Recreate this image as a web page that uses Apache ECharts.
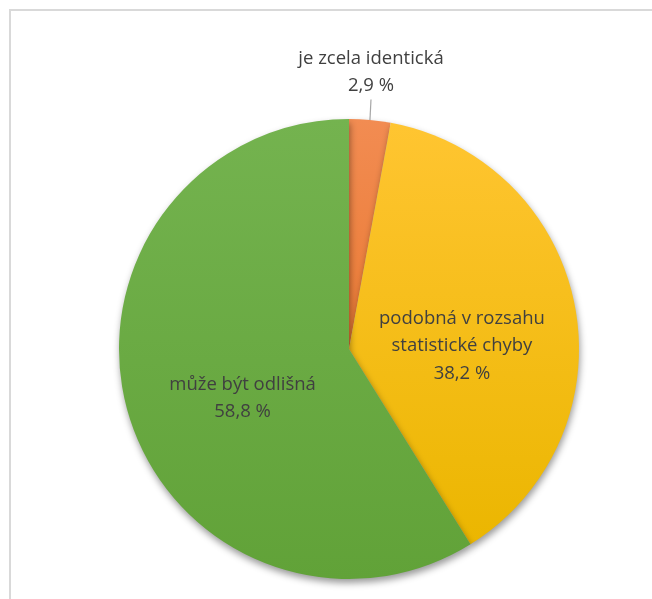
<!DOCTYPE html>
<html>
<head>
<meta charset="utf-8">
<script src="https://cdn.jsdelivr.net/npm/echarts@6/dist/echarts.min.js"></script>
<style>
  html, body { margin: 0; padding: 0; background: #ffffff; }
  #chart { width: 652px; height: 599px; }
</style>
</head>
<body>
<div id="chart"></div>
<script>
// Answer categories and their shares (%)
const categories = ['je zcela identická', 'podobná v rozsahu\nstatistické chyby', 'může být odlišná'];
const shares = [2.9, 38.2, 58.8];

// Fill gradients (top -> bottom) for each slice
const topColors = ['#f28c52', '#ffc531', '#74b34f'];
const bottomColors = ['#ea7a34', '#ebb600', '#61a238'];

const chart = echarts.init(document.getElementById('chart'), null, { renderer: 'canvas' });

const labelFont = '"Open Sans", "Noto Sans", sans-serif';

const data = categories.map((name, i) => ({
  name: name,
  value: shares[i],
  itemStyle: {
    color: new echarts.graphic.LinearGradient(0, 0, 0, 1, [
      { offset: 0, color: topColors[i] },
      { offset: 1, color: bottomColors[i] }
    ])
  },
  label: i === 0
    ? { position: 'outside' }
    : { position: 'inside' },
  labelLine: i === 0
    ? { show: true, length: 12, length2: 0, lineStyle: { color: '#a6a6a6', width: 1.2 } }
    : { show: false }
}));

chart.setOption({
  backgroundColor: '#ffffff',
  animation: false,
  graphic: [{
    type: 'rect',
    shape: { x: 10, y: 10, width: 700, height: 700 },
    style: { fill: 'none', stroke: '#d9d9d9', lineWidth: 2 },
    silent: true
  }],
  series: [{
    type: 'pie',
    center: [349, 349],
    radius: [0, 230],
    startAngle: 90,
    clockwise: true,
    avoidLabelOverlap: false,
    itemStyle: {
      borderWidth: 0,
      shadowBlur: 7,
      shadowOffsetX: 1,
      shadowOffsetY: 4,
      shadowColor: 'rgba(0,0,0,0.4)'
    },
    label: {
      show: true,
      color: '#404040',
      fontFamily: labelFont,
      fontSize: 18.5,
      lineHeight: 27.5,
      align: 'center',
      formatter: p => p.name + '\n' + p.value.toFixed(1).replace('.', ',') + ' %'
    },
    labelLayout: function (params) {
      if (params.dataIndex === 0) {
        return { x: 371, y: 72, align: 'center', verticalAlign: 'middle' };
      }
      if (params.dataIndex === 1) {
        return { dx: -3, dy: 19 };
      }
      return { dx: 7, dy: 17 };
    },
    data: data
  }]
});
</script>
</body>
</html>
